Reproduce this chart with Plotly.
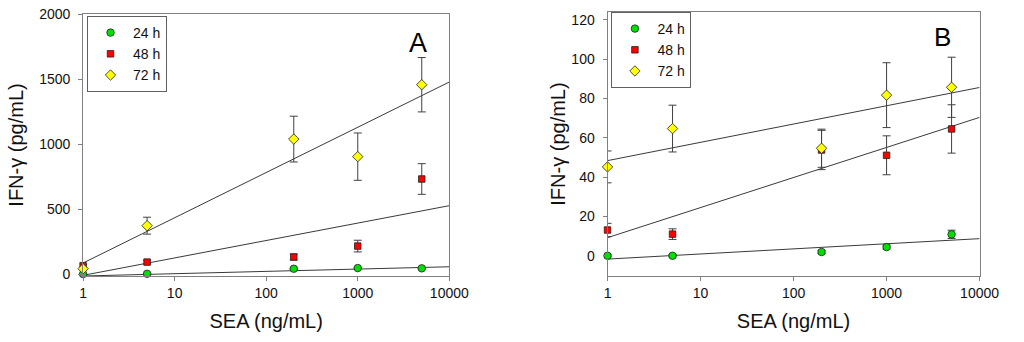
import numpy as np
import plotly.graph_objects as go

# ---- data ----
sea = [1, 5, 200, 1000, 5000]
series_names = ["24 h", "48 h", "72 h"]

# Panel A (IFN-gamma, pg/mL)
a_24 = [0, 2, 41, 46, 44]
a_24_err = [3, 3, 5, 5, 5]
a_48 = [64, 92, 131, 215, 731]
a_48_err = [10, 14, 23, 45, 118]
a_72 = [41, 372, 1038, 903, 1456]
a_72_err = [8, 65, 176, 182, 209]
# fitted lines: y = intercept + slope*log10(x)
a_fit_intercept = [-15, -10, 85]
a_fit_slope = [17.75, 134, 348]

# Panel B
b_24 = [0, 0, 1.9, 4.4, 10.9]
b_24_err = [0.6, 0.6, 0.8, 1.0, 2.1]
b_48 = [13.1, 11.0, 53.8, 51.1, 64.5]
b_48_err = [3.4, 2.7, 10, 9.9, 12.3]
b_72 = [45.2, 64.7, 54.7, 81.7, 85.7]
b_72_err = [8.1, 11.9, 9.7, 16.5, 15.3]
b_fit_intercept = [-1.7, 9.2, 48.4]
b_fit_slope = [2.6, 15.3, 9.3]

x_ticks = [1, 10, 100, 1000, 10000]
x_ticktext = ["1", "10", "100", "1000", "10000"]
a_yticks = [0, 500, 1000, 1500, 2000]
b_yticks = [0, 20, 40, 60, 80, 100, 120]

colors = ["#00e000", "#ff0000", "#ffff00"]
symbols = ["circle", "square", "diamond"]
sizes = [7.5, 6.5, 8]
FONT = "Arial, Liberation Sans, sans-serif"

fig = go.Figure()

panels = [
    dict(xa="x", ya="y", legend="legend",
         vals=[a_24, a_48, a_72], errs=[a_24_err, a_48_err, a_72_err],
         ic=a_fit_intercept, sl=a_fit_slope),
    dict(xa="x2", ya="y2", legend="legend2",
         vals=[b_24, b_48, b_72], errs=[b_24_err, b_48_err, b_72_err],
         ic=b_fit_intercept, sl=b_fit_slope),
]

xfit = np.logspace(0, 4, 60)
for p in panels:
    # fit lines
    for i in range(3):
        fig.add_trace(go.Scatter(
            x=xfit, y=p["ic"][i] + p["sl"][i] * np.log10(xfit),
            mode="lines", line=dict(color="#3a3a3a", width=1),
            xaxis=p["xa"], yaxis=p["ya"], showlegend=False, hoverinfo="skip"))
    for i in range(3):
        fig.add_trace(go.Scatter(
            x=sea, y=p["vals"][i], name=series_names[i], mode="markers",
            marker=dict(color=colors[i], symbol=symbols[i], size=sizes[i],
                        line=dict(color="#202020", width=0.8)),
            error_y=dict(type="data", array=p["errs"][i], color="#404040",
                         thickness=1, width=4),
            cliponaxis=False,
            xaxis=p["xa"], yaxis=p["ya"], legend=p["legend"]))

axis_common = dict(showline=True, mirror=True, linecolor="#808080", linewidth=1,
                   ticks="outside", ticklen=4, tickcolor="#808080",
                   showgrid=False, zeroline=False,
                   tickfont=dict(family=FONT, size=14, color="#111111"))

W, H = 1024, 342
fig.update_layout(
    width=W, height=H,
    margin=dict(l=0, r=0, t=12, b=66),
    paper_bgcolor="white", plot_bgcolor="white",
    font=dict(family=FONT, color="#111111"),
    xaxis=dict(axis_common, type="log", range=[0, 4], domain=[81 / W, 456 / W],
               tickvals=x_ticks, ticktext=x_ticktext, anchor="y",
               title=dict(text="SEA (ng/mL)", font=dict(size=20, family=FONT), standoff=14)),
    yaxis=dict(axis_common, range=[-15, 2000], domain=[0, (276 - 14) / 264],
               tickvals=a_yticks, anchor="x", ticklabelstandoff=5,
               title=dict(text="IFN-γ (pg/mL)", font=dict(size=20, family=FONT), standoff=10)),
    xaxis2=dict(axis_common, type="log", range=[0, 4], domain=[618 / W, 999 / W],
                tickvals=x_ticks, ticktext=x_ticktext, anchor="y2",
                title=dict(text="SEA (ng/mL)", font=dict(size=20, family=FONT), standoff=14)),
    yaxis2=dict(axis_common, range=[-10.3, 124], domain=[0, 1],
                tickvals=b_yticks, anchor="x2", ticklabelstandoff=5,
                title=dict(text="IFN-γ (pg/mL)", font=dict(size=20, family=FONT), standoff=0)),
    legend=dict(x=85 / W, y=(276 - 16) / 264, xanchor="left", yanchor="top",
                bordercolor="#606060", borderwidth=1, bgcolor="white",
                font=dict(family=FONT, size=14, color="#111111"), itemwidth=35),
    legend2=dict(x=622 / W, y=1.0, xanchor="left", yanchor="top",
                 bordercolor="#606060", borderwidth=1, bgcolor="white",
                 font=dict(family=FONT, size=14, color="#111111"), itemwidth=35),
    annotations=[
        dict(text="A", x=424 / W, y=(276 - 43) / 264, xref="paper", yref="paper",
             xanchor="center", yanchor="middle",
             showarrow=False, font=dict(family=FONT, size=27, color="#000000")),
        dict(text="B", x=961 / W, y=(276 - 37) / 264, xref="paper", yref="paper",
             xanchor="center", yanchor="middle",
             showarrow=False, font=dict(family=FONT, size=26, color="#000000")),
    ],
)

fig.write_html("out.html", config={"displayModeBar": False},
               post_script="document.body.style.margin='0px';")
